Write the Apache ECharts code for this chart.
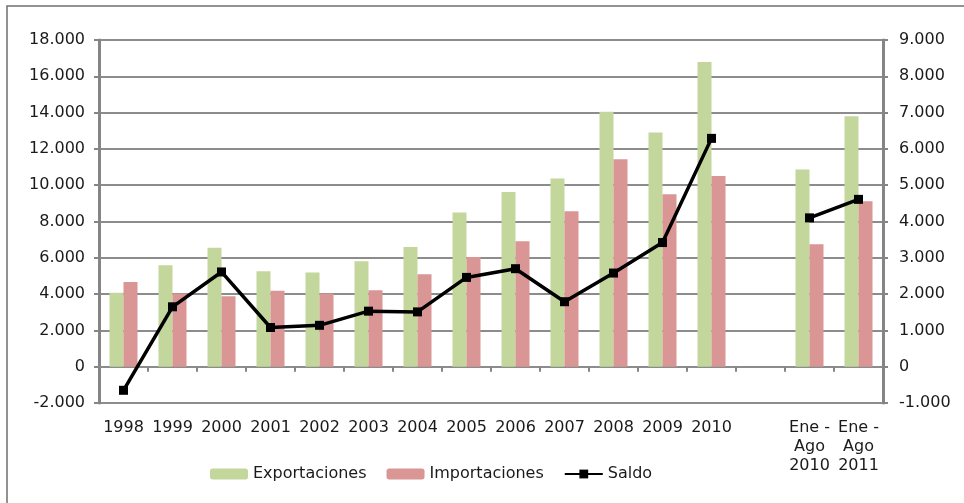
<!DOCTYPE html>
<html>
<head>
<meta charset="utf-8">
<script src="https://cdn.jsdelivr.net/npm/echarts@6/dist/echarts.min.js"></script>
<style>
  html, body { margin: 0; padding: 0; background: #fff; }
  #chart { width: 964px; height: 503px; }
</style>
</head>
<body>
<div id="chart"></div>
<script>
  // datos (millones)
  const categories = ['1998', '1999', '2000', '2001', '2002', '2003', '2004', '2005', '2006', '2007', '2008', '2009', '2010', '', 'Ene -\nAgo\n2010', 'Ene -\nAgo\n2011']
  const exportaciones = [4070, 5590, 6550, 5260, 5190, 5810, 6600, 8500, 9630, 10370, 14040, 12900, 16790, null, 10860, 13800]
  const importaciones = [4670, 4030, 3880, 4180, 4030, 4210, 5100, 6050, 6910, 8570, 11430, 9500, 10510, null, 6750, 9120]
  const saldo = [-650, 1650, 2610, 1080, 1140, 1530, 1510, 2460, 2700, 1790, 2580, 3420, 6290, null, 4100, 4610]

  const fmt = (v) => String(v).replace(/\B(?=(\d{3})+(?!\d))/g, '.')
  const font = 'DejaVu Sans'
  const gridColor = '#8c8c8c'
  const axisColor = '#858585'

  const chart = echarts.init(document.getElementById('chart'))
  chart.setOption({
    animation: false,
    textStyle: { fontFamily: font, color: '#1a1a1a' },
    graphic: [
      {
        type: 'rect',
        shape: { x: 7, y: 6, width: 1200, height: 1200 },
        style: { fill: 'none', stroke: '#6f6f6f', lineWidth: 1.5 },
        silent: true,
      },
    ],
    grid: { left: 99, right: 81, top: 40, bottom: 100 },
    legend: {
      left: 205,
      top: 461,
      itemWidth: 38,
      itemHeight: 11,
      itemGap: 20,
      textStyle: { fontFamily: font, fontSize: 16, color: '#1a1a1a' },
      data: ['Exportaciones', 'Importaciones', 'Saldo'],
    },
    xAxis: [
      {
        type: 'category',
        data: categories,
        axisLine: { onZero: false, show: false },
        axisTick: { show: false },
        axisLabel: {
          interval: 0,
          fontSize: 16,
          lineHeight: 19,
          margin: 15,
          color: '#1a1a1a',
        },
      },
      {
        type: 'category',
        data: categories,
        position: 'bottom',
        axisLine: { onZero: true, show: true, lineStyle: { color: gridColor, width: 2 } },
        axisTick: { show: true, length: 5, lineStyle: { color: axisColor, width: 2 } },
        axisLabel: { show: false },
      },
    ],
    yAxis: [
      {
        type: 'value',
        min: -2000,
        max: 18000,
        interval: 2000,
        axisLine: { show: true, lineStyle: { color: axisColor, width: 3 } },
        axisTick: { show: true, length: 5, lineStyle: { color: axisColor, width: 2 } },
        axisLabel: { fontSize: 16, margin: 14, color: '#1a1a1a', formatter: fmt },
        splitLine: { show: true, lineStyle: { color: gridColor, width: 2 } },
      },
      {
        type: 'value',
        min: -1000,
        max: 9000,
        interval: 1000,
        axisLine: { show: true, lineStyle: { color: axisColor, width: 3 } },
        axisTick: { show: true, length: 5, lineStyle: { color: axisColor, width: 2 } },
        axisLabel: { fontSize: 16, margin: 16, color: '#1a1a1a', formatter: fmt },
        splitLine: { show: false },
      },
    ],
    series: [
      {
        name: 'Exportaciones',
        type: 'bar',
        data: exportaciones,
        barWidth: 14,
        barGap: '0%',
        itemStyle: { color: '#c3d69b' },
      },
      {
        name: 'Importaciones',
        type: 'bar',
        data: importaciones,
        barWidth: 14,
        barGap: '0%',
        itemStyle: { color: '#d99694' },
      },
      {
        name: 'Saldo',
        type: 'line',
        yAxisIndex: 1,
        data: saldo,
        symbol: 'rect',
        symbolSize: 9,
        lineStyle: { color: '#000', width: 3.5 },
        itemStyle: { color: '#000' },
        z: 5,
      },
    ],
  })
</script>
</body>
</html>
